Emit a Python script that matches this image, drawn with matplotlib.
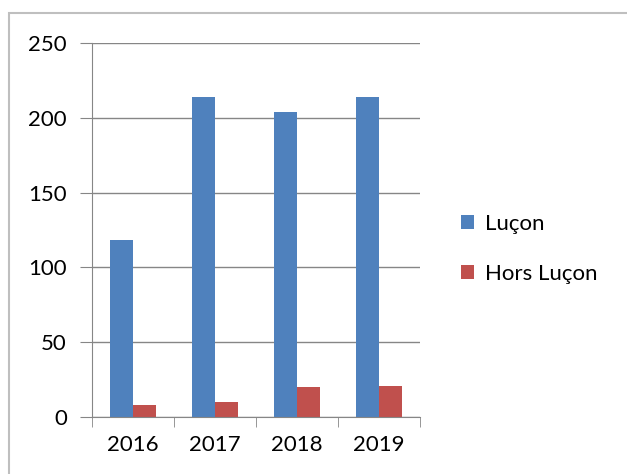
import matplotlib
matplotlib.use("Agg")
import matplotlib.pyplot as plt
import numpy as np
from matplotlib.patches import Rectangle

years = ["2016", "2017", "2018", "2019"]
lucon = [118, 214, 204, 214]
hors_lucon = [8, 10, 20, 21]
series_names = ["Luçon", "Hors Luçon"]
yticks = [0, 50, 100, 150, 200, 250]

blue = "#4F81BD"
red = "#C0504D"
grid_c = "#868686"

plt.rcParams['font.family'] = ['Lato', 'DejaVu Sans']

W, H = 627, 474
fig = plt.figure(figsize=(W/100, H/100), dpi=100)

# outer chart border (cut off right/bottom)
fig.patches.append(Rectangle((9/W, -0.1), 1.2, 1 - 13/H + 0.1, transform=fig.transFigure,
                             fill=False, edgecolor="#BFBFBF", linewidth=1.5))

ax = fig.add_axes([92/W, 1 - 417/H, 328/W, 374/H])
x = np.arange(len(years))
bw = 0.28
ax.bar(x - bw/2, lucon, bw, color=blue, label=series_names[0])
ax.bar(x + bw/2, hors_lucon, bw, color=red, label=series_names[1])

ax.set_xlim(-0.5, len(years) - 0.5)
ax.set_ylim(0, 250)
ax.set_yticks(yticks)
ax.set_yticklabels([str(v) for v in yticks], fontsize=16)
ax.yaxis.grid(True, color=grid_c, linewidth=1)
ax.set_axisbelow(True)
ax.set_xticks(x)
ax.set_xticklabels(years, fontsize=16)
ax.set_xticks(np.arange(-0.5, len(years)), minor=True)
ax.tick_params(axis='x', which='major', length=0, pad=13)
ax.tick_params(axis='x', which='minor', length=7, color=grid_c, direction='out')
ax.tick_params(axis='y', length=9, color=grid_c, direction='out', pad=9)

for s in ["top", "right"]:
    ax.spines[s].set_visible(False)
for s in ["left", "bottom"]:
    ax.spines[s].set_color(grid_c)

leg = fig.legend(loc="center left", bbox_to_anchor=(441/W, 1 - 249/H), frameon=False,
                 fontsize=16, handlelength=0.6, handleheight=0.6, labelspacing=1.35,
                 handletextpad=0.5)

fig.savefig("out.png", dpi=100)
